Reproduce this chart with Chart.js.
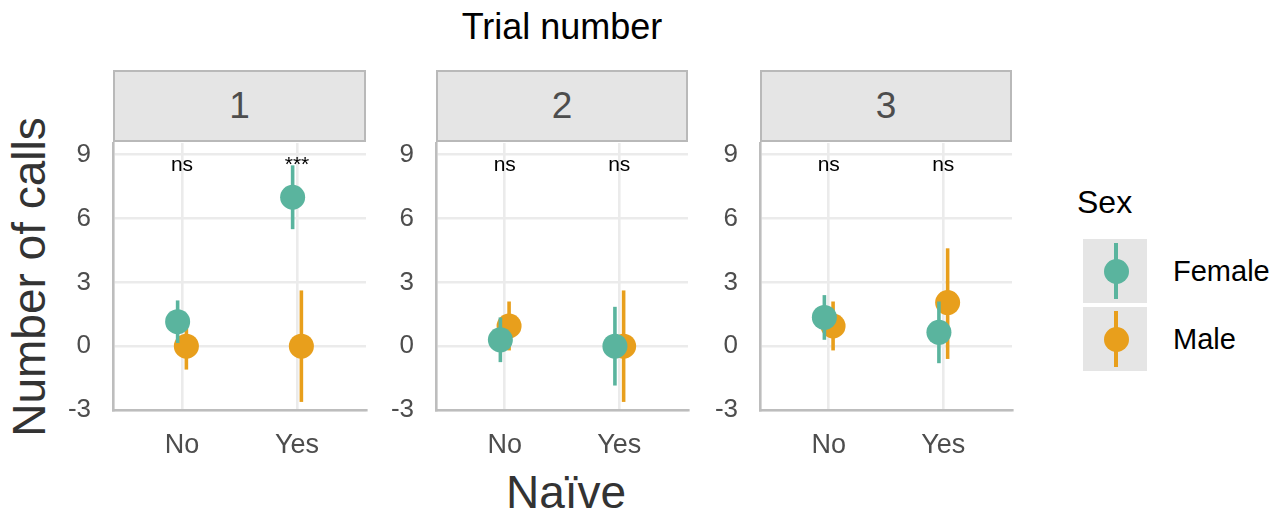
<!DOCTYPE html>
<html>
<head>
<meta charset="utf-8">
<script src="https://cdn.jsdelivr.net/npm/chart.js@4"></script>
<style>
  html, body { margin: 0; padding: 0; background: #fff; }
  body { width: 1273px; height: 514px; position: relative; overflow: hidden;
         font-family: "Liberation Sans", Arial, sans-serif; }
  .txt { position: absolute; white-space: nowrap; line-height: 1; }
  .center { transform: translate(-50%, -50%); }
  .strip { position: absolute; box-sizing: border-box; background: #E5E5E5;
           border: 2px solid #B9B9B9; color: #4D4D4D; font-size: 37px;
           display: flex; align-items: center; justify-content: center; }
  canvas { position: absolute; }
  .keybox { position: absolute; background: #E5E5E5; }
  .keyline { position: absolute; width: 4px; }
  .keydot { position: absolute; width: 25px; height: 25px; border-radius: 50%; }
</style>
</head>
<body>
<div class="txt center" style="left:562px; top:27px; font-size:36px; color:#000;">Trial number</div>
<div class="txt center" style="left:29px; top:277px; font-size:46px; color:#333; transform: translate(-50%,-50%) rotate(-90deg);">Number of calls</div>
<div class="txt center" style="left:566px; top:492px; font-size:46px; color:#333;">Naïve</div>

<div id="legend"></div>

<script>
// Categories, panels and estimated means with interval limits
const categories = ['No', 'Yes'];
const trials = ['1', '2', '3'];
const sexes = ['Female', 'Male'];

const femaleMean = [[1.15, 7.0], [0.3, 0.0], [1.35, 0.65]];
const femaleLow  = [[0.15, 5.5], [-0.75, -1.85], [0.3, -0.8]];
const femaleHigh = [[2.15, 8.5], [1.35, 1.85], [2.4, 2.1]];

const maleMean = [[0.0, 0.0], [0.95, 0.0], [0.95, 2.05]];
const maleLow  = [[-1.1, -2.62], [-0.2, -2.62], [-0.2, -0.6]];
const maleHigh = [[1.1, 2.62], [2.1, 2.62], [2.1, 4.6]];

const sigLabels = [['ns', '***'], ['ns', 'ns'], ['ns', 'ns']];
const sigY = 8.25;

const yTicks = [-3, 0, 3, 6, 9];
const yMinor = [-1.5, 1.5, 4.5, 7.5];
const yMin = -3, yMax = 9.55;

const colours = { Female: '#5AB49E', Male: '#E89F1C' };

// Layout of the three facet panels
const panelLeft = [113, 436, 760];
const panelWidth = [253, 252, 252];
const plotTop = 143, plotBottom = 410;
const stripTop = 70, stripHeight = 72;
const YW = 60, XH = 70, PADT = 20, PADR = 6;
const dodge = 0.038;
const FONT = '"Liberation Sans", Arial, sans-serif';

// Draws each dataset's vertical interval just before its points
const intervalPlugin = {
  id: 'intervals',
  beforeDatasetDraw(chart, args) {
    const ds = chart.data.datasets[args.index];
    const { ctx, scales: { x, y } } = chart;
    ctx.save();
    ctx.strokeStyle = ds.backgroundColor;
    ctx.lineWidth = 3.6;
    ctx.lineCap = 'butt';
    ds.data.forEach((p, i) => {
      const px = x.getPixelForValue(p.x);
      ctx.beginPath();
      ctx.moveTo(px, y.getPixelForValue(ds.lo[i]));
      ctx.lineTo(px, y.getPixelForValue(ds.hi[i]));
      ctx.stroke();
    });
    ctx.restore();
  }
};

// Significance labels above each category
const sigPlugin = {
  id: 'sig',
  afterDatasetsDraw(chart, args, opts) {
    const { ctx, scales: { x, y } } = chart;
    ctx.save();
    ctx.fillStyle = '#000';
    ctx.font = '21px ' + FONT;
    ctx.textAlign = 'center';
    ctx.textBaseline = 'alphabetic';
    opts.labels.forEach((t, i) => {
      ctx.fillText(t, x.getPixelForValue(i + 1), y.getPixelForValue(sigY));
    });
    ctx.restore();
  }
};

function makeData(mean, k, offset) {
  return categories.map((c, j) => ({ x: j + 1 + offset, y: mean[k][j] }));
}

// Keep the plot area fixed: no extra room for edge tick labels
function fixPadding(s) {
  s.paddingTop = 0; s.paddingBottom = 0; s.paddingLeft = 0; s.paddingRight = 0;
}

trials.forEach((trial, k) => {
  const strip = document.createElement('div');
  strip.className = 'strip';
  strip.style.left = panelLeft[k] + 'px';
  strip.style.top = stripTop + 'px';
  strip.style.width = panelWidth[k] + 'px';
  strip.style.height = stripHeight + 'px';
  strip.textContent = trial;
  document.body.appendChild(strip);

  const cv = document.createElement('canvas');
  const w = YW + panelWidth[k] + PADR, h = PADT + (plotBottom - plotTop) + XH;
  cv.width = w; cv.height = h;
  cv.style.width = w + 'px'; cv.style.height = h + 'px';
  cv.style.left = (panelLeft[k] - YW) + 'px';
  cv.style.top = (plotTop - PADT) + 'px';
  document.body.appendChild(cv);

  new Chart(cv, {
    type: 'scatter',
    data: {
      datasets: [
        {
          label: sexes[0],
          data: makeData(femaleMean, k, -dodge),
          lo: femaleLow[k], hi: femaleHigh[k],
          backgroundColor: colours.Female,
          pointRadius: 12.5, pointHoverRadius: 12.5, borderWidth: 0
        },
        {
          label: sexes[1],
          data: makeData(maleMean, k, dodge),
          lo: maleLow[k], hi: maleHigh[k],
          backgroundColor: colours.Male,
          pointRadius: 12.5, pointHoverRadius: 12.5, borderWidth: 0
        }
      ]
    },
    options: {
      responsive: false,
      animation: false,
      events: [],
      layout: { autoPadding: false, padding: { top: PADT, right: PADR, left: 0, bottom: 0 } },
      plugins: {
        legend: { display: false },
        tooltip: { enabled: false },
        sig: { labels: sigLabels[k] }
      },
      scales: {
        x: {
          type: 'linear',
          min: 0.4, max: 2.6,
          afterBuildTicks: s => { s.ticks = categories.map((c, j) => ({ value: j + 1 })); },
          afterFit: s => { s.height = XH; fixPadding(s); },
          ticks: {
            callback: v => categories[Math.round(v) - 1],
            font: { family: FONT, size: 27 },
            color: '#4D4D4D',
            padding: 19,
            maxRotation: 0
          },
          grid: { color: '#EBEBEB', lineWidth: 2.6, drawTicks: false },
          border: { display: true, color: '#BDBDBD', width: 2.6 }
        },
        y: {
          type: 'linear',
          min: yMin, max: yMax,
          afterBuildTicks: s => {
            s.ticks = yTicks.concat(yMinor).sort((a, b) => a - b).map(v => ({ value: v }));
          },
          afterFit: s => { s.width = YW; fixPadding(s); },
          ticks: {
            callback: v => (yTicks.includes(v) ? String(v) : ''),
            font: { family: FONT, size: 26 },
            color: '#4D4D4D',
            padding: 22
          },
          grid: {
            color: '#EBEBEB',
            lineWidth: c => (c.tick && yTicks.includes(c.tick.value) ? 2.6 : 1.3),
            drawTicks: false
          },
          border: { display: true, color: '#BDBDBD', width: 2.6 }
        }
      }
    },
    plugins: [intervalPlugin, sigPlugin]
  });
});

// Legend for the Sex colour scale
(function buildLegend() {
  const lg = document.getElementById('legend');
  const title = document.createElement('div');
  title.className = 'txt';
  title.style.cssText = 'left:1077px; top:186px; font-size:32px; color:#000;';
  title.textContent = 'Sex';
  lg.appendChild(title);
  const boxTops = [239, 307];
  sexes.forEach((s, i) => {
    const top = boxTops[i];
    const box = document.createElement('div');
    box.className = 'keybox';
    box.style.cssText = `left:1083px; top:${top}px; width:64px; height:64px;`;
    lg.appendChild(box);
    const line = document.createElement('div');
    line.className = 'keyline';
    line.style.cssText = `left:1114px; top:${top + 4}px; height:56px; background:${colours[s]};`;
    lg.appendChild(line);
    const dot = document.createElement('div');
    dot.className = 'keydot';
    dot.style.cssText = `left:1103.5px; top:${top + 19.5}px; background:${colours[s]};`;
    lg.appendChild(dot);
    const lab = document.createElement('div');
    lab.className = 'txt';
    lab.style.cssText = `left:1173px; top:${top + 18}px; font-size:29px; color:#000;`;
    lab.textContent = s;
    lg.appendChild(lab);
  });
})();
</script>
</body>
</html>
